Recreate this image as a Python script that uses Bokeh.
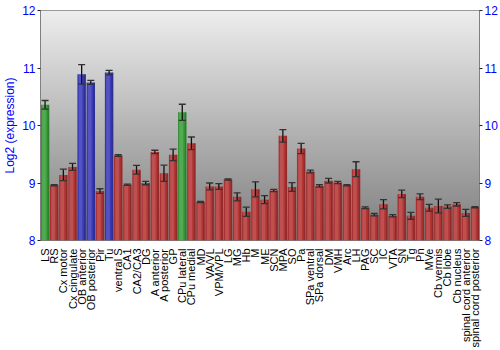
import math
import numpy as np
from bokeh.plotting import figure
from bokeh.models import ColumnDataSource, FactorRange, Range1d, LinearAxis, FixedTicker, Whisker, TeeHead
from bokeh.transform import dodge
from bokeh.embed import file_html
from bokeh.resources import INLINE

regions = ["LS", "RS", "Cx motor", "Cx cingulate", "OB anterior", "OB posterior", "Pir", "Tu",
           "ventral S", "CA1", "CA2/CA3", "DG", "A anterior", "A posterior", "GP", "CPu lateral",
           "CPu medial", "MD", "VA/VL", "VPM/VPL", "LG", "MG", "Hb", "M", "ME", "SCN", "MPA", "SO",
           "Pa", "SPa ventral", "SPa dorsal", "DM", "VMH", "Arc", "LH", "PAG", "SC", "IC", "VTA",
           "SN", "Tg", "Pn", "MVe", "Cb vermis", "Cb lobe", "Cb nucleus", "spinal cord anterior",
           "spinal cord posterior"]
expression = [10.36, 8.96, 9.14, 9.28, 10.89, 10.75, 8.86, 10.92,
              9.48, 8.97, 9.23, 9.00, 9.54, 9.17, 9.49, 10.23,
              9.69, 8.67, 8.94, 8.94, 9.06, 8.76, 8.50, 8.89, 8.71, 8.87, 9.82, 8.93,
              9.60, 9.20, 8.95, 9.04, 9.01, 8.96, 9.24, 8.57, 8.45, 8.63, 8.43,
              8.81, 8.43, 8.76, 8.57, 8.60, 8.59, 8.63, 8.48,
              8.58]
std_err = [0.075, 0.01, 0.10, 0.06, 0.17, 0.035, 0.04, 0.04,
           0.015, 0.01, 0.075, 0.03, 0.03, 0.14, 0.10, 0.14,
           0.11, 0.01, 0.06, 0.05, 0.01, 0.07, 0.08, 0.13, 0.07, 0.02, 0.11, 0.075,
           0.09, 0.025, 0.02, 0.04, 0.02, 0.01, 0.13, 0.015, 0.02, 0.08, 0.02,
           0.065, 0.06, 0.05, 0.06, 0.12, 0.03, 0.03, 0.06,
           0.01]
green_regions = ["LS", "CPu lateral"]
blue_regions = ["OB anterior", "OB posterior", "Tu"]
y_ticks = [8, 9, 10, 11, 12]

RED, GREEN, BLUE = "#b53636", "#3a9e3a", "#3a3ab8"
colors = [GREEN if r in green_regions else BLUE if r in blue_regions else RED for r in regions]

src = ColumnDataSource(dict(
    region=regions, value=expression, color=colors,
    upper=[v + e for v, e in zip(expression, std_err)],
    lower=[v - e for v, e in zip(expression, std_err)],
))

p = figure(width=500, height=350, output_backend="svg", toolbar_location=None,
           x_range=FactorRange(factors=regions, range_padding=0),
           y_range=Range1d(y_ticks[0], y_ticks[-1]),
           min_border_left=30, min_border_right=18, min_border_top=10, min_border_bottom=95)
p.background_fill_color = "#aaaaaa"
p.border_fill_color = "white"
p.outline_line_color = "#808080"
p.outline_line_width = 1

# vertical gray gradient background
H = 240
top, bot = np.array([238, 238, 238]), np.array([126, 126, 126])
t = np.linspace(0, 1, H)[:, None]
rgb = (bot * (1 - t) + top * t).astype(np.uint8)
img = np.zeros((H, 1), dtype=np.uint32)
view = img.view(dtype=np.uint8).reshape((H, 1, 4))
view[:, 0, 0:3] = rgb
view[:, 0, 3] = 255
p.image_rgba(image=[img], x=0, y=y_ticks[0], dw=len(regions), dh=y_ticks[-1] - y_ticks[0])

# grid
p.xgrid.grid_line_color = None
p.ygrid.grid_line_color = "white"
p.ygrid.grid_line_width = 2
p.ygrid.grid_line_alpha = 0.9
p.ygrid.level = "image"

# bars with shading
p.vbar(x="region", top="value", bottom=y_ticks[0], width=0.92, source=src,
       fill_color="color", line_color=None)
p.vbar(x=dodge("region", -0.12, range=p.x_range), top="value", bottom=y_ticks[0], width=0.4,
       source=src, fill_color="white", fill_alpha=0.13, line_color=None)
p.vbar(x=dodge("region", 0.36, range=p.x_range), top="value", bottom=y_ticks[0], width=0.2,
       source=src, fill_color="black", fill_alpha=0.2, line_color=None)
p.vbar(x=dodge("region", -0.42, range=p.x_range), top="value", bottom=y_ticks[0], width=0.08,
       source=src, fill_color="black", fill_alpha=0.12, line_color=None)

wh = Whisker(source=src, base="region", upper="upper", lower="lower", level="overlay",
             line_color="#111111", line_width=1.3,
             upper_head=TeeHead(size=7, line_color="#333333", line_width=1.3),
             lower_head=TeeHead(size=7, line_color="#333333", line_width=1.3))
p.add_layout(wh)

FONT = "Liberation Sans"
# left axis
ya = p.yaxis[0]
ya.ticker = FixedTicker(ticks=y_ticks)
ya.axis_label = "Log2 (expression)"
ya.axis_label_text_color = "blue"
ya.axis_label_text_font = FONT
ya.axis_label_text_font_size = "12px"
ya.axis_label_text_font_style = "normal"
ya.axis_label_standoff = 2
ya.major_label_text_color = "blue"
ya.major_label_text_font = FONT
ya.major_label_text_font_size = "12px"
ya.major_label_standoff = 2
ya.major_tick_in = 0
ya.major_tick_out = 3
ya.minor_tick_line_color = None
ya.axis_line_color = "#808080"
ya.major_tick_line_color = "#222222"

ra = LinearAxis(ticker=FixedTicker(ticks=y_ticks))
ra.major_label_text_color = "blue"
ra.major_label_text_font = FONT
ra.major_label_text_font_size = "12px"
ra.major_label_standoff = 2
ra.major_tick_in = 0
ra.major_tick_out = 3
ra.minor_tick_line_color = None
ra.axis_line_color = "#808080"
ra.major_tick_line_color = "#222222"
p.add_layout(ra, "right")

xa = p.xaxis[0]
xa.major_label_orientation = math.pi / 2
xa.major_label_text_font = FONT
xa.major_label_text_font_size = "11px"
xa.major_label_text_color = "black"
xa.major_label_standoff = 2
xa.axis_line_color = None
xa.major_tick_line_color = None
xa.minor_tick_line_color = None

open("out.html", "w").write(file_html(p, INLINE))
